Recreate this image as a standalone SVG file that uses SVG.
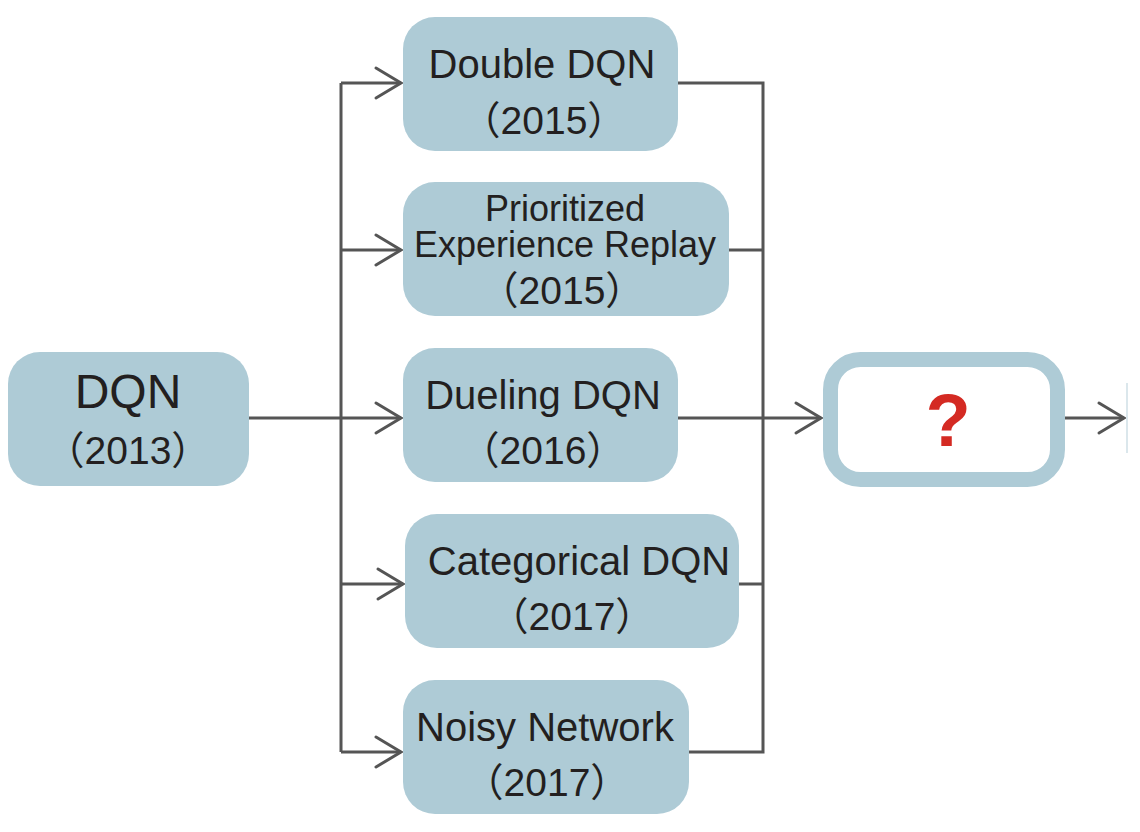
<svg xmlns="http://www.w3.org/2000/svg" width="1140" height="832" viewBox="0 0 1140 832">
  <style>
    .box { fill: #aecbd6; }
    .t { font-family: "Liberation Sans", "Noto Sans CJK SC", sans-serif; fill: #231f20; text-anchor: middle; }
    .name { font-size: 40px; }
    .small { font-size: 36px; }
    .yr { font-size: 39px; }
    .conn { fill: none; stroke: #555555; stroke-width: 3; }
  </style>
  <defs>
    <marker id="arr" markerUnits="userSpaceOnUse" markerWidth="32" markerHeight="36" viewBox="0 0 32 36" refX="28" refY="18" orient="auto">
      <path d="M3,3 L28,18 L3,33" fill="none" stroke="#555555" stroke-width="3" stroke-linecap="round" stroke-linejoin="miter"/>
    </marker>
  </defs>
  <rect width="1140" height="832" fill="#ffffff"/>

  <g id="connectors">
    <path class="conn" d="M249,418 H341"/>
    <path class="conn" d="M341,83 V752"/>
    <path class="conn" d="M341,83 H401" marker-end="url(#arr)"/>
    <path class="conn" d="M341,250 H401" marker-end="url(#arr)"/>
    <path class="conn" d="M341,418 H401" marker-end="url(#arr)"/>
    <path class="conn" d="M341,584 H403" marker-end="url(#arr)"/>
    <path class="conn" d="M341,752 H401" marker-end="url(#arr)"/>
    <path class="conn" d="M678,83 H763 V752 H689"/>
    <path class="conn" d="M729,250 H763"/>
    <path class="conn" d="M678,418 H763"/>
    <path class="conn" d="M739,584 H763"/>
    <path class="conn" d="M763,418 H821" marker-end="url(#arr)"/>
    <path class="conn" d="M1065,418 H1124" marker-end="url(#arr)"/>
  </g>

  <g id="node-dqn">
    <rect class="box" x="8" y="352" width="241" height="134" rx="32"/>
    <text class="t" x="128" y="408" font-size="48">DQN</text>
    <text class="t yr" x="128" y="464">（2013）</text>
  </g>

  <g id="node-double">
    <rect class="box" x="403" y="17" width="275" height="134" rx="32"/>
    <text class="t name" x="542" y="78">Double DQN</text>
    <text class="t yr" x="544" y="134">（2015）</text>
  </g>

  <g id="node-per">
    <rect class="box" x="403" y="182" width="326" height="134" rx="32"/>
    <text class="t small" x="565" y="221">Prioritized</text>
    <text class="t small" x="565" y="257">Experience Replay</text>
    <text class="t yr" x="562" y="304">（2015）</text>
  </g>

  <g id="node-dueling">
    <rect class="box" x="403" y="348" width="275" height="134" rx="32"/>
    <text class="t name" x="543" y="409">Dueling DQN</text>
    <text class="t yr" x="543" y="464">（2016）</text>
  </g>

  <g id="node-categorical">
    <rect class="box" x="405" y="514" width="334" height="134" rx="32"/>
    <text class="t name" x="579" y="575">Categorical DQN</text>
    <text class="t yr" x="572" y="630">（2017）</text>
  </g>

  <g id="node-noisy">
    <rect class="box" x="403" y="680" width="286" height="134" rx="32"/>
    <text class="t name" x="545" y="741">Noisy Network</text>
    <text class="t yr" x="547" y="796">（2017）</text>
  </g>

  <g id="node-unknown">
    <rect x="830.5" y="359.5" width="227" height="120" rx="30" fill="#ffffff" stroke="#aecbd6" stroke-width="15"/>
    <text x="948" y="446" font-family="Liberation Sans, sans-serif" font-size="74" font-weight="bold" fill="#d42a23" text-anchor="middle">?</text>
  </g>

  <g id="node-next">
    <line x1="1127" y1="383" x2="1127" y2="453" stroke="#dbe7ec" stroke-width="2"/>
  </g>
</svg>
